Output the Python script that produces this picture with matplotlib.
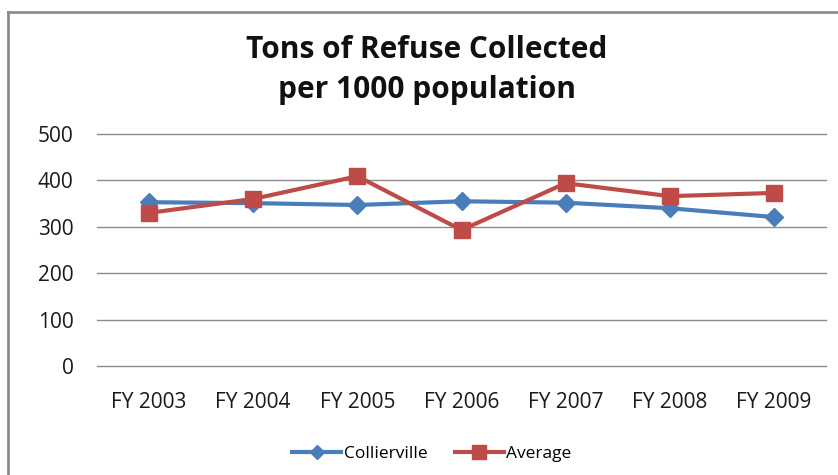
import matplotlib
matplotlib.use('Agg')
from matplotlib import pyplot as plt
from matplotlib.lines import Line2D

# data
years = ['FY 2003', 'FY 2004', 'FY 2005', 'FY 2006', 'FY 2007', 'FY 2008', 'FY 2009']
collierville = [353, 351, 347, 355, 352, 340, 321]
average = [330, 360, 409, 293, 394, 366, 373]
yticks = [0, 100, 200, 300, 400, 500]

plt.rcParams['font.family'] = ['Open Sans', 'DejaVu Sans']

fig = plt.figure(figsize=(8.38, 4.75), dpi=100)
W, H = 838, 475
ax = fig.add_axes([97 / W, 1 - 366 / H, (826 - 97) / W, (366 - 134) / H])

x = range(len(years))
ax.plot(x, collierville, color='#4a7ebb', lw=3, marker='D', ms=9, label='Collierville')
ax.plot(x, average, color='#be4b48', lw=3, marker='s', ms=12, label='Average')

ax.set_xlim(-0.5, len(years) - 0.5)
ax.set_ylim(0, 500)
ax.set_yticks(yticks)
ax.set_xticks(list(x))
ax.set_xticklabels(years)
ax.grid(axis='y', color='#8c8c8c', lw=1)
for gl in ax.get_ygridlines():
    gl.set_clip_on(False)
ax.set_axisbelow(True)
for s in ax.spines.values():
    s.set_visible(False)
ax.tick_params(length=0, labelsize=15, colors='#1a1a1a')
ax.tick_params(axis='y', pad=17)
ax.tick_params(axis='x', pad=19)

fig.text(427 / W, 1 - 70 / H, 'Tons of Refuse Collected\nper 1000 population',
         ha='center', va='center', fontsize=21.5, fontweight='bold',
         linespacing=1.4, color='#111111')

leg = fig.legend(loc='center', bbox_to_anchor=(432 / W, 1 - 454 / H), ncol=2,
                 frameon=False, fontsize=12.5, handlelength=2.8, columnspacing=1.6,
                 handletextpad=0.15)
for h in leg.legend_handles:
    h.set_markersize(h.get_markersize() * 0.8)

# outer chart frame (clipped on the right and bottom)
fig.add_artist(Line2D([8 / W, 8 / W], [1 - 12 / H, 0], color='#8c8c8c', lw=2, transform=fig.transFigure))
fig.add_artist(Line2D([8 / W, 1], [1 - 12 / H, 1 - 12 / H], color='#8c8c8c', lw=2, transform=fig.transFigure))

fig.savefig('out.png', dpi=100)
